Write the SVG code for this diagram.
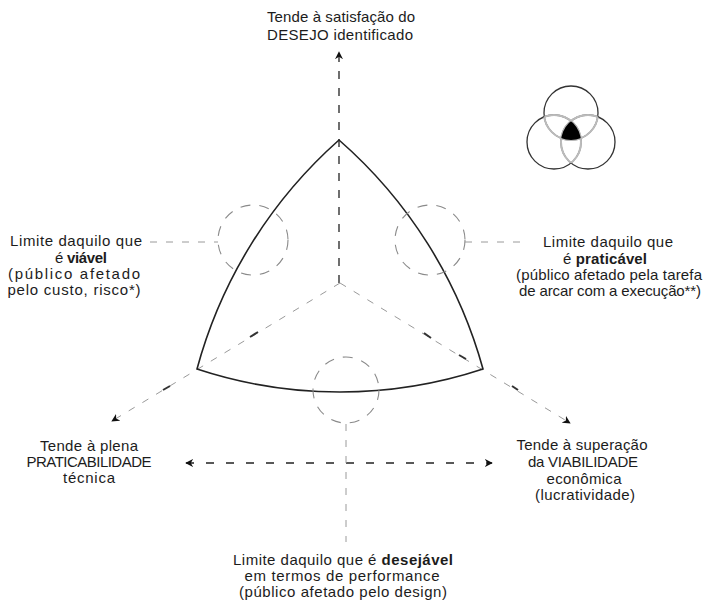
<svg xmlns="http://www.w3.org/2000/svg" width="704" height="607" viewBox="0 0 704 607">
<style>
text{font-family:"Liberation Sans",Arial,sans-serif;font-size:15px;fill:#1c1c1c;text-anchor:middle}
.b{font-weight:bold}
.dark{stroke:#222;stroke-width:1.3;fill:none;stroke-dasharray:8 9}
.grey{stroke:#9a9a9a;stroke-width:1;fill:none;stroke-dasharray:7 9}
.circ{stroke:#8a8a8a;stroke-width:1.1;fill:none;stroke-dasharray:10 9}
.thick{stroke:#333;stroke-width:2;fill:none}
.shape{stroke:#222;stroke-width:1.6;fill:none;stroke-linejoin:miter}
.vo{fill:none;stroke:#333;stroke-width:1.3}
.vi{fill:none;stroke:#bbb;stroke-width:2}
</style>
<defs>
<marker id="ah" viewBox="0 0 10 10" refX="9" refY="5" markerWidth="8" markerHeight="8" markerUnits="userSpaceOnUse" orient="auto-start-reverse">
<path d="M0,0 L10,5 L0,10 L3,5 Z" fill="#111"/>
</marker>
<clipPath id="cA"><circle cx="571" cy="113" r="27"/></clipPath>
<clipPath id="cB"><circle cx="554" cy="142" r="27"/></clipPath>
<clipPath id="cC"><circle cx="588" cy="142" r="27"/></clipPath>
</defs>

<g id="connectors">
<line class="dark" x1="339" y1="283" x2="339" y2="52" marker-end="url(#ah)"/>
<line class="grey" x1="340" y1="283" x2="112" y2="421" marker-end="url(#ah)"/>
<line class="grey" x1="340" y1="283" x2="570" y2="423" marker-end="url(#ah)"/>
<line class="thick" x1="250" y1="337" x2="258" y2="332"/>
<line class="thick" x1="163" y1="390" x2="170" y2="386"/>
<line class="thick" x1="424" y1="333" x2="431" y2="338"/>
<line class="thick" x1="459" y1="355" x2="466" y2="359"/>
<line class="thick" x1="512" y1="386" x2="518" y2="390"/>
<line class="dark" style="stroke-dasharray:8 12" x1="186" y1="463" x2="492" y2="463" marker-start="url(#ah)" marker-end="url(#ah)"/>
<line class="grey" x1="346" y1="424" x2="346" y2="542"/>
<line class="grey" x1="150" y1="242" x2="218" y2="242"/>
<line class="grey" x1="465" y1="242" x2="528" y2="242"/>
</g>

<g id="reuleaux">
<path class="shape" d="M339,140 A470,470 0 0 0 197,369 A456,456 0 0 0 483,369 A470,470 0 0 0 339,140 Z"/>
</g>

<g id="limit-viavel-circle"><circle class="circ" cx="253" cy="240" r="35"/></g>
<g id="limit-praticavel-circle"><circle class="circ" cx="430" cy="240" r="35"/></g>
<g id="limit-desejavel-circle"><circle class="circ" cx="346" cy="390" r="33"/></g>

<g id="venn-icon">
<circle class="vo" cx="571" cy="113" r="27"/>
<circle class="vo" cx="554" cy="142" r="27"/>
<circle class="vo" cx="588" cy="142" r="27"/>
<circle class="vi" cx="571" cy="113" r="27" clip-path="url(#cB)"/>
<circle class="vi" cx="571" cy="113" r="27" clip-path="url(#cC)"/>
<circle class="vi" cx="554" cy="142" r="27" clip-path="url(#cA)"/>
<circle class="vi" cx="554" cy="142" r="27" clip-path="url(#cC)"/>
<circle class="vi" cx="588" cy="142" r="27" clip-path="url(#cA)"/>
<circle class="vi" cx="588" cy="142" r="27" clip-path="url(#cB)"/>
<g clip-path="url(#cB)"><g clip-path="url(#cC)"><circle cx="571" cy="113" r="27" fill="#000"/></g></g>
</g>

<g id="top-label">
<text x="341" y="22" textLength="148">Tende à satisfação do</text>
<text x="340" y="40" textLength="146">DESEJO identificado</text>
</g>
<g id="left-label">
<text x="76" y="246" textLength="132">Limite daquilo que</text>
<text x="81" y="263" textLength="52">é <tspan class="b">viável</tspan></text>
<text x="74" y="279" textLength="132">(público afetado</text>
<text x="74" y="295" textLength="133">pelo custo, risco*)</text>
</g>
<g id="right-label">
<text x="608" y="247" textLength="130">Limite daquilo que</text>
<text x="605" y="264" textLength="84">é <tspan class="b">praticável</tspan></text>
<text x="609" y="280" textLength="186">(público afetado pela tarefa</text>
<text x="610" y="296" textLength="182">de arcar com a execução**)</text>
</g>
<g id="bottom-left-label">
<text x="89" y="451" textLength="98">Tende à plena</text>
<text x="89" y="467" textLength="125">PRATICABILIDADE</text>
<text x="89" y="483" textLength="52">técnica</text>
</g>
<g id="bottom-right-label">
<text x="582" y="450" textLength="131">Tende à superação</text>
<text x="583" y="467" textLength="110">da VIABILIDADE</text>
<text x="584" y="484" textLength="75">econômica</text>
<text x="585" y="500" textLength="100">(lucratividade)</text>
</g>
<g id="bottom-label">
<text x="343" y="565" textLength="220">Limite daquilo que é <tspan class="b">desejável</tspan></text>
<text x="342" y="581" textLength="195">em termos de performance</text>
<text x="343" y="597" textLength="208">(público afetado pelo design)</text>
</g>
</svg>
